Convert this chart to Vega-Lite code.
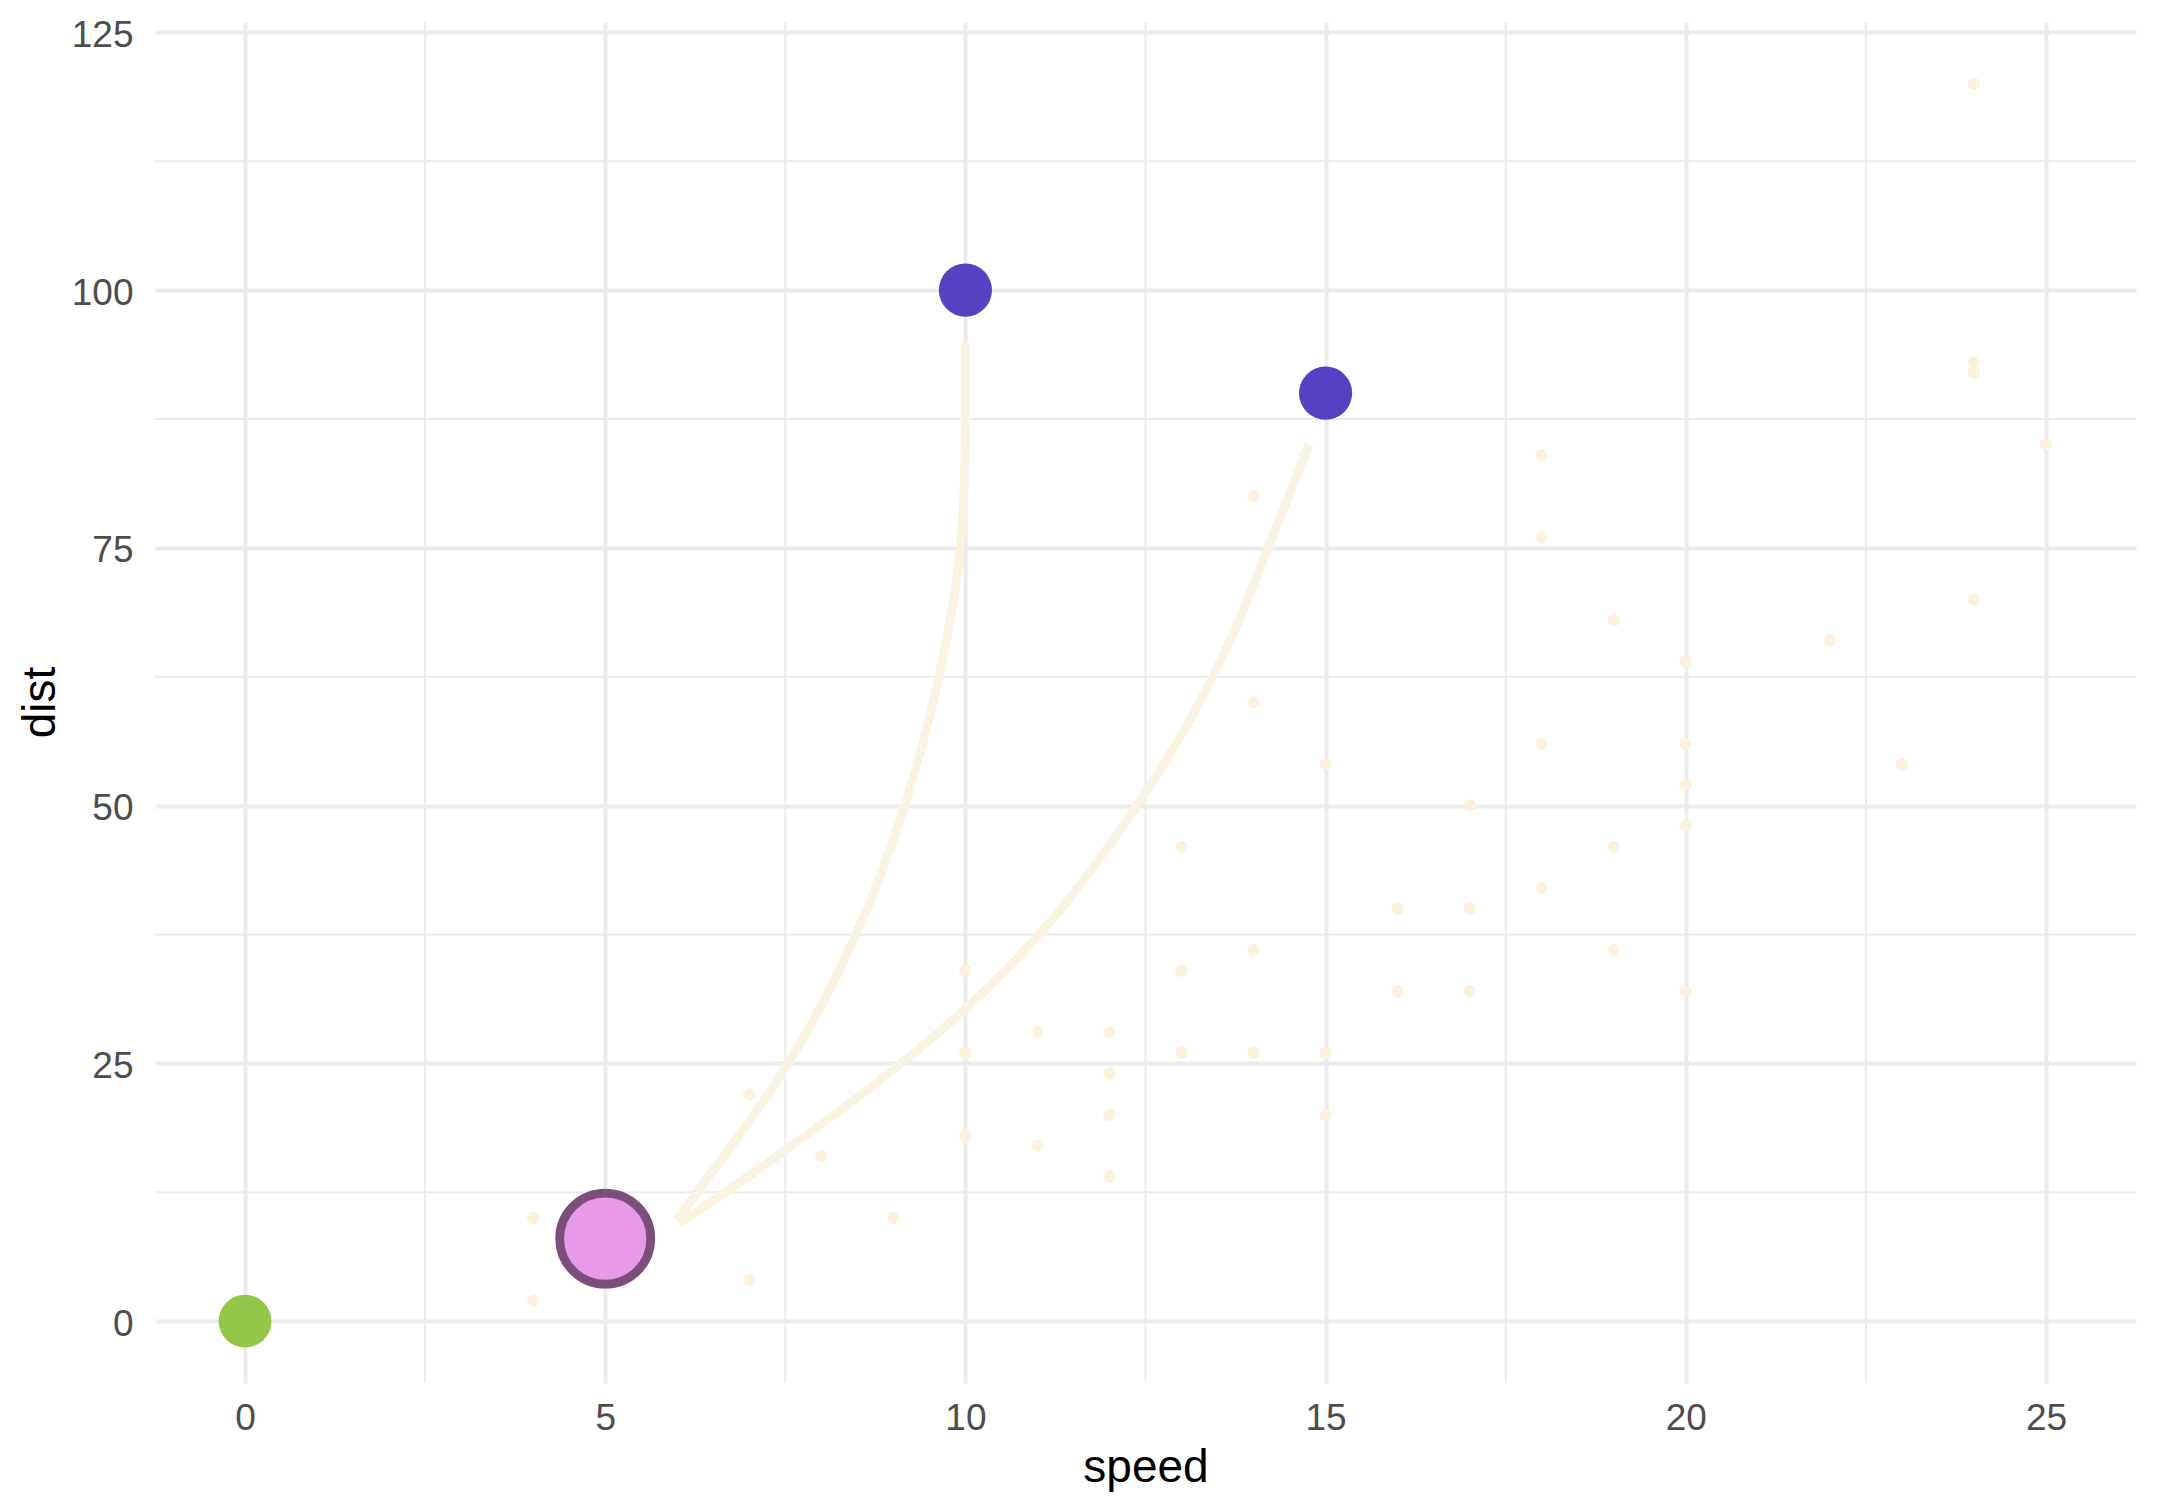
{
  "$schema": "https://vega.github.io/schema/vega-lite/v6.json",
  "width": 1981,
  "height": 1361,
  "autosize": "none",
  "padding": {"left": 155, "top": 22, "right": 24, "bottom": 129},
  "background": "white",
  "config": {"view": {"stroke": null}, "font": "Liberation Sans"},
  "datasets": {
    "minorx": [{"speed": 2.5}, {"speed": 7.5}, {"speed": 12.5}, {"speed": 17.5}, {"speed": 22.5}],
    "minory": [{"dist": 12.5}, {"dist": 37.5}, {"dist": 62.5}, {"dist": 87.5}, {"dist": 112.5}],
    "cars": [
      {"speed": 4, "dist": 2}, {"speed": 4, "dist": 10}, {"speed": 7, "dist": 4}, {"speed": 7, "dist": 22},
      {"speed": 8, "dist": 16}, {"speed": 9, "dist": 10}, {"speed": 10, "dist": 18}, {"speed": 10, "dist": 26},
      {"speed": 10, "dist": 34}, {"speed": 11, "dist": 17}, {"speed": 11, "dist": 28}, {"speed": 12, "dist": 14},
      {"speed": 12, "dist": 20}, {"speed": 12, "dist": 24}, {"speed": 12, "dist": 28}, {"speed": 13, "dist": 26},
      {"speed": 13, "dist": 34}, {"speed": 13, "dist": 34}, {"speed": 13, "dist": 46}, {"speed": 14, "dist": 26},
      {"speed": 14, "dist": 36}, {"speed": 14, "dist": 60}, {"speed": 14, "dist": 80}, {"speed": 15, "dist": 20},
      {"speed": 15, "dist": 26}, {"speed": 15, "dist": 54}, {"speed": 16, "dist": 32}, {"speed": 16, "dist": 40},
      {"speed": 17, "dist": 32}, {"speed": 17, "dist": 40}, {"speed": 17, "dist": 50}, {"speed": 18, "dist": 42},
      {"speed": 18, "dist": 56}, {"speed": 18, "dist": 76}, {"speed": 18, "dist": 84}, {"speed": 19, "dist": 36},
      {"speed": 19, "dist": 46}, {"speed": 19, "dist": 68}, {"speed": 20, "dist": 32}, {"speed": 20, "dist": 48},
      {"speed": 20, "dist": 52}, {"speed": 20, "dist": 56}, {"speed": 20, "dist": 64}, {"speed": 22, "dist": 66},
      {"speed": 23, "dist": 54}, {"speed": 24, "dist": 70}, {"speed": 24, "dist": 92}, {"speed": 24, "dist": 93},
      {"speed": 24, "dist": 120}, {"speed": 25, "dist": 85}
    ],
    "curves": [
      {"curve": "a", "i": 0, "speed": 5.99, "dist": 9.8},
      {"curve": "a", "i": 1, "speed": 6.93, "dist": 18.6},
      {"curve": "a", "i": 2, "speed": 7.56, "dist": 25.0},
      {"curve": "a", "i": 3, "speed": 8.07, "dist": 31.4},
      {"curve": "a", "i": 4, "speed": 8.49, "dist": 37.5},
      {"curve": "a", "i": 5, "speed": 8.86, "dist": 43.8},
      {"curve": "a", "i": 6, "speed": 9.17, "dist": 50.0},
      {"curve": "a", "i": 7, "speed": 9.48, "dist": 57.9},
      {"curve": "a", "i": 8, "speed": 9.64, "dist": 62.5},
      {"curve": "a", "i": 9, "speed": 9.84, "dist": 69.65},
      {"curve": "a", "i": 10, "speed": 9.94, "dist": 75.0},
      {"curve": "a", "i": 11, "speed": 9.99, "dist": 81.4},
      {"curve": "a", "i": 12, "speed": 10.005, "dist": 87.3},
      {"curve": "a", "i": 13, "speed": 10.0, "dist": 94.9},
      {"curve": "b", "i": 0, "speed": 6.03, "dist": 9.46},
      {"curve": "b", "i": 1, "speed": 7.32, "dist": 15.6},
      {"curve": "b", "i": 2, "speed": 8.71, "dist": 22.7},
      {"curve": "b", "i": 3, "speed": 10.0, "dist": 30.0},
      {"curve": "b", "i": 4, "speed": 11.11, "dist": 37.9},
      {"curve": "b", "i": 5, "speed": 11.84, "dist": 44.5},
      {"curve": "b", "i": 6, "speed": 12.5, "dist": 51.1},
      {"curve": "b", "i": 7, "speed": 13.0, "dist": 56.8},
      {"curve": "b", "i": 8, "speed": 13.45, "dist": 62.5},
      {"curve": "b", "i": 9, "speed": 13.84, "dist": 68.5},
      {"curve": "b", "i": 10, "speed": 14.2, "dist": 75.0},
      {"curve": "b", "i": 11, "speed": 14.77, "dist": 85.05}
    ],
    "highlights": [
      {"speed": 0, "dist": 0, "grp": "origin"},
      {"speed": 5, "dist": 8, "grp": "start"},
      {"speed": 10, "dist": 100, "grp": "target"},
      {"speed": 15, "dist": 90, "grp": "target"}
    ]
  },
  "layer": [
    {
      "data": {"name": "minorx"},
      "mark": {"type": "rule", "color": "#EBEBEB", "strokeWidth": 2},
      "encoding": {
        "x": {
          "field": "speed", "type": "quantitative",
          "scale": {"domain": [-1.25, 26.25], "nice": false, "zero": false},
          "axis": {
            "title": "speed", "values": [0, 5, 10, 15, 20, 25], "format": "d",
            "grid": true, "gridColor": "#EBEBEB", "gridWidth": 4,
            "ticks": false, "domain": false,
            "labelFontSize": 37, "labelColor": "#4D4D4D", "labelPadding": 17,
            "titleFontSize": 46, "titleColor": "#000000", "titleFontWeight": "normal",
            "titleY": 98, "titleBaseline": "alphabetic"
          }
        }
      }
    },
    {
      "data": {"name": "minory"},
      "mark": {"type": "rule", "color": "#EBEBEB", "strokeWidth": 2},
      "encoding": {
        "y": {
          "field": "dist", "type": "quantitative",
          "scale": {"domain": [-6, 126], "nice": false, "zero": false},
          "axis": {
            "title": "dist", "values": [0, 25, 50, 75, 100, 125], "format": "d",
            "grid": true, "gridColor": "#EBEBEB", "gridWidth": 4,
            "ticks": false, "domain": false,
            "labelFontSize": 37, "labelColor": "#4D4D4D", "labelPadding": 22, "labelOffset": 3,
            "titleFontSize": 46, "titleColor": "#000000", "titleFontWeight": "normal",
            "titleAngle": -90, "titleX": -101, "titleY": 680, "titleBaseline": "alphabetic", "titleAlign": "center"
          }
        }
      }
    },
    {
      "data": {"name": "cars"},
      "mark": {"type": "circle", "size": 154, "color": "#FCF1DC", "opacity": 1},
      "encoding": {
        "x": {"field": "speed", "type": "quantitative"},
        "y": {"field": "dist", "type": "quantitative"}
      }
    },
    {
      "data": {"name": "curves"},
      "mark": {"type": "line", "color": "#FBF3E1", "strokeWidth": 9, "strokeCap": "butt", "interpolate": "basis"},
      "encoding": {
        "x": {"field": "speed", "type": "quantitative"},
        "y": {"field": "dist", "type": "quantitative"},
        "detail": {"field": "curve"},
        "order": {"field": "i", "type": "quantitative"}
      }
    },
    {
      "data": {"name": "highlights"},
      "transform": [{"filter": "datum.grp === 'origin'"}],
      "mark": {"type": "circle", "size": 2790, "color": "#94C649", "opacity": 1},
      "encoding": {
        "x": {"field": "speed", "type": "quantitative"},
        "y": {"field": "dist", "type": "quantitative"}
      }
    },
    {
      "data": {"name": "highlights"},
      "transform": [{"filter": "datum.grp === 'target'"}],
      "mark": {"type": "circle", "size": 2827, "color": "#5541C1", "opacity": 1},
      "encoding": {
        "x": {"field": "speed", "type": "quantitative"},
        "y": {"field": "dist", "type": "quantitative"}
      }
    },
    {
      "data": {"name": "highlights"},
      "transform": [{"filter": "datum.grp === 'start'"}],
      "mark": {"type": "circle", "size": 8300, "fill": "#E89AE8", "fillOpacity": 1, "stroke": "#7B4F7A", "strokeWidth": 8.8, "strokeOpacity": 1},
      "encoding": {
        "x": {"field": "speed", "type": "quantitative"},
        "y": {"field": "dist", "type": "quantitative"}
      }
    }
  ]
}
